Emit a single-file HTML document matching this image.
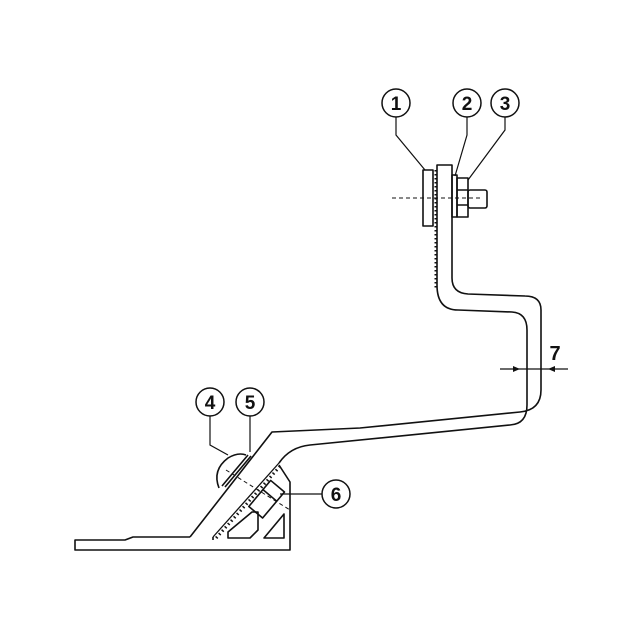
<!DOCTYPE html>
<html><head><style>html,body{margin:0;padding:0;background:#fff}svg{display:block}</style></head>
<body>
<svg width="640" height="640" viewBox="0 0 640 640" xmlns="http://www.w3.org/2000/svg" font-family="Liberation Sans, sans-serif">
<g fill="none" stroke="#111" stroke-width="1.6" stroke-linejoin="round">
<path d="M190 537 L133 537 L125 540 L75 540 L75 550 L290 550 L290 482 L279 465"/>
<path d="M190 537 L272 432 L360 428 L520 412 Q541 410 541 390 L541 310 Q541 296 525 296 L468 294 Q452 293 452 278 L452 165 L437 165 L437 285 Q437 310 458 310 L512 312 Q527 313 527 330 L527 405 Q527 424 510 425 L310 445 Q290 447 279 463"/>
<path d="M213 537 L279 463" stroke-width="1.3"/>
<path d="M215 537 L280 464" stroke-width="3" stroke-dasharray="1.5,3" transform="translate(1.2,1)" stroke-linejoin="miter"/>
<path d="M435.5 170 L435.5 288" stroke-width="2" stroke-dasharray="1.5,2.5"/>
<path d="M213 537 L213 540"/>
<path d="M228 538 L228 532 L252 512 L258 512 L258 530 L250 538 Z"/>
<path d="M264 538 L284 514 L284 538 Z"/>
<g transform="rotate(40 266 500)">
<rect x="257" y="482" width="18" height="34"/>
<path d="M257 494 L275 494"/>
</g>
<path d="M219 488 Q212 470 228 458 Q238 452 246 455"/>
<path d="M222 486 L248 455 M225 487 L251 456"/>
<rect x="423" y="170" width="10" height="56"/>
<rect x="452" y="175" width="5" height="42"/>
<rect x="457" y="178" width="11" height="39"/>
<path d="M457 190 L468 190 M457 205 L468 205"/>
<rect x="468" y="190" width="19" height="18" rx="2"/>
</g>
<g stroke="#111" stroke-width="1" stroke-dasharray="4,3" fill="none">
<path d="M392 198 L480 198"/>
<path d="M226 470 L290 510"/>
</g>
<g stroke="#111" stroke-width="1.2" fill="none">
<path d="M396 117 L396 135 L425 170"/>
<path d="M467 117 L467 135 L455 176"/>
<path d="M505 117 L505 130 L468 180"/>
<path d="M210 416 L210 445 L228 455"/>
<path d="M250 416 L250 452"/>
<path d="M322 494 L280 494"/>
<path d="M500 369 L568 369"/>
</g>
<g fill="#111">
<path d="M520 369 l-7 -3 0 6 z"/><path d="M548 369 l7 -3 0 6 z"/>
</g>
<g fill="#fff" stroke="#111" stroke-width="1.5">
<circle cx="396" cy="103" r="14"/><circle cx="467" cy="103" r="14"/><circle cx="505" cy="103" r="14"/>
<circle cx="210" cy="402" r="14"/><circle cx="250" cy="402" r="14"/><circle cx="336" cy="494" r="14"/>
</g>
<g font-size="19" font-weight="bold" text-anchor="middle" fill="#111">
<text x="396" y="110">1</text><text x="467" y="110">2</text><text x="505" y="110">3</text>
<text x="210" y="409">4</text><text x="250" y="409">5</text><text x="336" y="501">6</text>
<text x="555" y="360" font-size="20">7</text>
</g>
</svg>
</body></html>
